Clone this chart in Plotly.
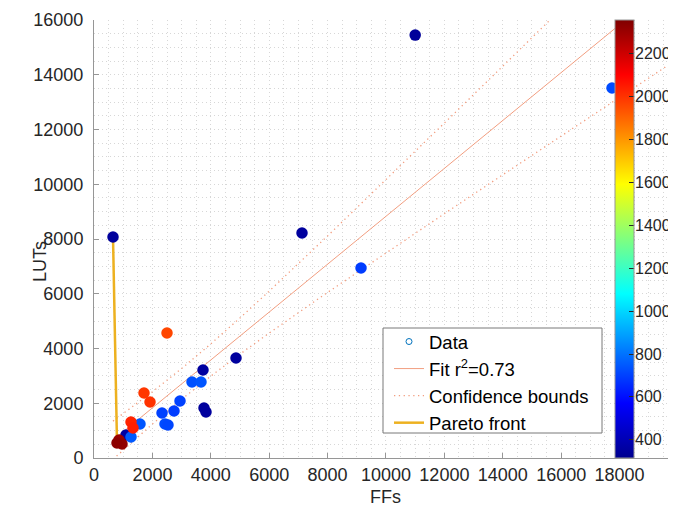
import plotly.graph_objects as go

# ---- data ----
ffs = [11000, 651, 7123, 4863, 3733, 3767, 3836, 1096,
       17740, 9144, 3356, 3664, 2945, 2740, 2329, 2432, 2534, 1575, 1267,
       2500, 1712, 1918, 1267, 1336,
       856, 959, 788]
luts = [15450, 8073, 8219, 3653, 3215, 1826, 1680, 840,
        13516, 6941, 2776, 2776, 2082, 1717, 1644, 1242, 1205, 1242, 767,
        4566, 2374, 2046, 1315, 1096,
        658, 511, 548]
color_vals = [340, 345, 350, 350, 355, 345, 350, 360,
              720, 690, 730, 740, 700, 690, 700, 720, 710, 740, 750,
              1960, 1990, 2000, 2030, 2040,
              2300, 2320, 2330]

fit_x = [651, 20000]
fit_y = [650, 17580]

bound_x = [651, 1000, 2000, 3000, 4000, 5000, 6000, 8000, 10000, 12000, 14000, 16000, 18000, 20000]
bound_upper = [1347, 1616, 2419, 3268, 4169, 5116, 6096, 8112, 10165, 12235, 14314, 16397, 18484, 20573]
bound_lower = [-48, 294, 1241, 2142, 2991, 3794, 4564, 6048, 7495, 8925, 10346, 11763, 13176, 14587]

pareto_x = [651, 788]
pareto_y = [8073, 548]

color_min, color_max = 316, 2355
cbar_ticks = [400, 600, 800, 1000, 1200, 1400, 1600, 1800, 2000, 2200]
x_ticks = [0, 2000, 4000, 6000, 8000, 10000, 12000, 14000, 16000, 18000]
y_ticks = [0, 2000, 4000, 6000, 8000, 10000, 12000, 14000, 16000]

FONT = "Liberation Sans, Arial, sans-serif"
TXT = "rgb(38,38,38)"
fit_color = "rgb(242,158,128)"
grid_color = "rgb(215,215,215)"

matlab_jet = [
    [0.0, "rgb(0,0,143)"],
    [0.125, "rgb(0,0,255)"],
    [0.375, "rgb(0,255,255)"],
    [0.625, "rgb(255,255,0)"],
    [0.875, "rgb(255,0,0)"],
    [1.0, "rgb(128,0,0)"],
]

# plot-area geometry (page pixels of the reference)
PL, PR, PT, PB = 94, 676, 20, 458
PW, PH = PR - PL, PB - PT


def px_x(p):
    return (p - PL) / PW


def px_y(p):
    return (PB - p) / PH


fig = go.Figure()

# legend entry for Data
fig.add_trace(go.Scatter(x=[None], y=[None], mode="markers", name="Data",
                         marker=dict(symbol="circle-open", size=6, color="rgb(0,114,189)",
                                     line=dict(width=1))))

fig.add_trace(go.Scatter(x=fit_x, y=fit_y, mode="lines", name="Fit r<sup>2</sup>=0.73",
                         line=dict(color=fit_color, width=1)))
fig.add_trace(go.Scatter(x=bound_x, y=bound_upper, mode="lines", name="Confidence bounds",
                         line=dict(color=fit_color, width=1.3, dash="1.3px,3.5px")))
fig.add_trace(go.Scatter(x=bound_x, y=bound_lower, mode="lines", name="Confidence bounds",
                         line=dict(color=fit_color, width=1.3, dash="1.3px,3.5px"),
                         showlegend=False))
fig.add_trace(go.Scatter(x=pareto_x, y=pareto_y, mode="lines", name="Pareto front",
                         line=dict(color="rgb(237,177,32)", width=2.5)))

fig.add_trace(go.Scatter(
    x=ffs, y=luts, mode="markers", showlegend=False,
    marker=dict(size=11.5, color=color_vals, colorscale=matlab_jet,
                cmin=color_min, cmax=color_max, line=dict(width=0),
                colorbar=dict(x=px_x(615), xanchor="left", y=0.5, yanchor="middle",
                              len=1, lenmode="fraction", thickness=19, xpad=0, ypad=0,
                              outlinecolor="rgb(150,150,150)", outlinewidth=1,
                              tickvals=cbar_ticks, ticks="inside", ticklen=5,
                              tickcolor="rgb(40,40,40)", showticklabels=False)),
))

# colorbar tick labels
for v in cbar_ticks:
    fig.add_annotation(text=str(v), xref="paper", yref="paper", x=px_x(634),
                       y=(v - color_min) / (color_max - color_min),
                       xanchor="left", yanchor="middle", showarrow=False, borderpad=0,
                       font=dict(family=FONT, size=16, color=TXT))

axis_common = dict(
    showline=True, linecolor="rgb(150,150,150)", linewidth=1,
    ticks="inside", ticklen=5, tickcolor="rgb(150,150,150)",
    tickfont=dict(family=FONT, size=18, color=TXT),
    tickformat="d",
    showgrid=True, gridcolor=grid_color, griddash="1px,3px", gridwidth=1,
    zeroline=False, mirror=False,
    minor=dict(dtick=500, showgrid=True, gridcolor=grid_color, griddash="1px,3px", gridwidth=1),
)

fig.update_xaxes(range=[0, 19932], tickvals=x_ticks, tick0=0, dtick=2000,
                 ticklabelstandoff=0, **axis_common)
fig.update_yaxes(range=[0, 16000], tickvals=y_ticks, tick0=0, dtick=2000,
                 ticklabelstandoff=6, **axis_common)

fig.add_annotation(text="FFs", xref="paper", yref="paper", x=0.5, y=0, yshift=-39,
                   xanchor="center", yanchor="middle", showarrow=False,
                   font=dict(family=FONT, size=18, color=TXT))
fig.add_annotation(text="LUTs", xref="paper", yref="paper", x=0, xshift=-54, y=px_y(262),
                   xanchor="center", yanchor="middle", showarrow=False, textangle=-90,
                   font=dict(family=FONT, size=18, color=TXT))

# legend frame
fig.add_shape(type="rect", xref="paper", yref="paper",
              x0=px_x(383), x1=px_x(602), y0=px_y(433), y1=px_y(328),
              fillcolor="white", line=dict(color="rgb(120,120,120)", width=1), layer="above")

# the page body adds an 8px margin, so the figure is 8px smaller and offset
fig.update_layout(
    width=668, height=500,
    margin=dict(l=86, r=0, t=12, b=50),
    plot_bgcolor="white", paper_bgcolor="white",
    font=dict(family=FONT, size=18, color=TXT),
    legend=dict(x=px_x(389), y=px_y(323), xanchor="left", yanchor="top",
                bgcolor="rgba(0,0,0,0)", borderwidth=0,
                font=dict(family=FONT, size=18.5, color="black"),
                tracegroupgap=0, itemwidth=30),
)

fig.write_html("out.html")
